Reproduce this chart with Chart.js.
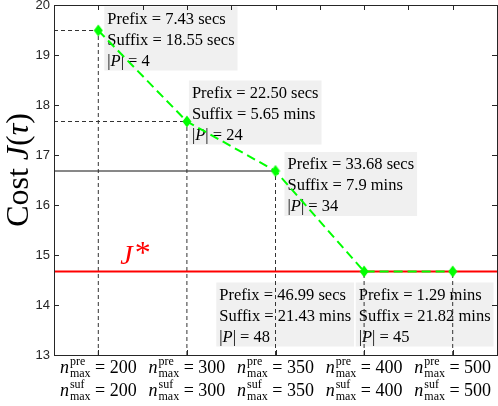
<!DOCTYPE html>
<html>
<head>
<meta charset="utf-8">
<script src="https://cdn.jsdelivr.net/npm/chart.js@4.4.0/dist/chart.umd.min.js"></script>
<style>
    html, body { margin: 0; padding: 0; background: #fff; }
    #wrap { width: 498px; height: 406px; }
</style>
</head>
<body>
<div id="wrap"><canvas id="costChart"></canvas></div>
<script>
// Data
const nMaxValues = [200, 300, 350, 400, 500];
const costValues = [19.49, 17.67, 16.68, 14.67, 14.67];
const jStar = 14.67;
const prefixTimes = ['7.43 secs', '22.50 secs', '33.68 secs', '46.99 secs', '1.29 mins'];
const suffixTimes = ['18.55 secs', '5.65 mins', '7.9 mins', '21.43 mins', '21.82 mins'];
const pathCounts = [4, 24, 34, 48, 45];
const yTickValues = [13, 14, 15, 16, 17, 18, 19, 20];
const topTickValues = [1, 1.5, 2, 2.5, 3, 3.5, 4, 4.5, 5];

// Styling
const SERIF = '"Liberation Serif", "Times New Roman", serif';
const SANS = '"Liberation Sans", Arial, sans-serif';
const INK = '#262626';
const GREEN = '#00ff00';
const RED = '#ff0000';
const PLOT_AREA = { left: 54, top: 5, right: 497, bottom: 355 };

// pixel offsets of each annotation box from its point (left, top); 'right' anchors box right edge
const boxPlacement = [
    { dx: 6, dy: -24 },
    { dx: 2, dy: -41 },
    { dx: 9, dy: -19 },
    { dx: -10, dy: 11, right: true },
    { dx: -97, dy: 11 }
];

const points = costValues.map((v, i) => ({ x: i + 1, y: v }));

// Diamond marker (MATLAB 'd' is taller than wide)
const diamond = document.createElement('canvas');
diamond.width = 10;
diamond.height = 13;
(() => {
    const d = diamond.getContext('2d');
    d.fillStyle = GREEN;
    d.beginPath();
    d.moveTo(5, 0.5);
    d.lineTo(9.5, 6.5);
    d.lineTo(5, 12.5);
    d.lineTo(0.5, 6.5);
    d.closePath();
    d.fill();
})();

const guideStyle = {
    borderColor: '#333',
    borderWidth: 1,
    borderDash: [4, 3],
    pointRadius: 0,
    fill: false
};

const datasets = [
    {
        label: 'cost',
        data: points,
        borderColor: GREEN,
        borderWidth: 2,
        borderDash: [9, 5],
        pointStyle: diamond,
        pointRadius: 6,
        showLine: true
    },
    {
        label: 'J*',
        data: [{ x: 0.5, y: jStar }, { x: 5.5, y: jStar }],
        borderColor: RED,
        borderWidth: 2,
        pointRadius: 0,
        showLine: true
    }
];

// vertical dashed drops from each point
points.forEach(p => {
    datasets.push({ ...guideStyle, data: [{ x: p.x, y: yTickValues[0] }, p], showLine: true });
});
// horizontal guides from the y axis to the first three points (third one is solid)
points.slice(0, 3).forEach((p, i) => {
    datasets.push({
        ...guideStyle,
        borderDash: i === 2 ? [] : guideStyle.borderDash,
        borderColor: i === 2 ? '#111' : '#333',
        data: [{ x: 0.5, y: p.y }, p],
        showLine: true
    });
});

function drawRich(ctx, segs, x, y) {
    let cx = x;
    segs.forEach(([t, f, dy, gap]) => {
        ctx.font = f;
        cx += gap || 0;
        ctx.fillText(t, cx, y + (dy || 0));
        cx += ctx.measureText(t).width;
    });
    return cx - x;
}

function measureRich(ctx, segs) {
    let w = 0;
    segs.forEach(([t, f]) => { ctx.font = f; w += ctx.measureText(t).width; });
    return w;
}

// pin the plot area to where MATLAB put it
const fixArea = {
    id: 'fixArea',
    afterLayout(chart) {
        const a = PLOT_AREA;
        Object.assign(chart.chartArea, a, { width: a.right - a.left, height: a.bottom - a.top });
        const { x, y } = chart.scales;
        x.left = a.left; x.right = a.right; x.width = a.right - a.left;
        x.top = a.bottom; x.bottom = chart.height; x.height = chart.height - a.bottom;
        y.top = a.top; y.bottom = a.bottom; y.height = a.bottom - a.top;
        y.left = 0; y.right = a.left; y.width = a.left;
        x.configure();
        y.configure();
    }
};

const boxesPlugin = {
    id: 'boxes',
    beforeDatasetsDraw(chart) {
        const { ctx, scales: { x, y } } = chart;
        const f = '16.5px ' + SERIF;
        const fi = 'italic 16.5px ' + SERIF;
        ctx.save();
        points.forEach((p, i) => {
            const lines = [
                [['Prefix = ' + prefixTimes[i], f]],
                [['Suffix = ' + suffixTimes[i], f]],
                [['|', f], ['P', fi], ['| = ' + pathCounts[i], f]]
            ];
            const w = Math.max(...lines.map(l => measureRich(ctx, l))) + 6;
            const h = 64;
            const px = x.getPixelForValue(p.x);
            const py = y.getPixelForValue(p.y);
            const pl = boxPlacement[i];
            const left = pl.right ? px + pl.dx - w : px + pl.dx;
            const top = py + pl.dy;
            ctx.fillStyle = '#f0f0f0';
            ctx.fillRect(left, top, w, h);
            ctx.fillStyle = '#000';
            ctx.textBaseline = 'alphabetic';
            lines.forEach((l, k) => drawRich(ctx, l, left + 3, top + 17 + k * 21));
        });
        ctx.restore();
    },
    afterDatasetsDraw(chart) {
        const { ctx, chartArea: a, scales: { x, y } } = chart;
        ctx.save();
        ctx.strokeStyle = INK;
        ctx.lineWidth = 1;
        ctx.beginPath();
        // inward ticks on all four sides
        yTickValues.forEach(v => {
            const py = Math.round(y.getPixelForValue(v)) + 0.5;
            ctx.moveTo(a.left, py); ctx.lineTo(a.left + 5, py);
            ctx.moveTo(a.right, py); ctx.lineTo(a.right - 5, py);
        });
        topTickValues.forEach(v => {
            const px = Math.round(x.getPixelForValue(v)) + 0.5;
            ctx.moveTo(px, a.top); ctx.lineTo(px, a.top + 5);
        });
        points.forEach(p => {
            const px = Math.round(x.getPixelForValue(p.x)) + 0.5;
            ctx.moveTo(px, a.bottom); ctx.lineTo(px, a.bottom - 5);
        });
        ctx.stroke();
        ctx.strokeRect(Math.round(a.left) + 0.5, Math.round(a.top) + 0.5,
            Math.round(a.right - a.left), Math.round(a.bottom - a.top));
        ctx.restore();
    },
    afterDraw(chart) {
        const { ctx, scales: { x, y } } = chart;
        ctx.save();
        ctx.fillStyle = '#000';
        ctx.textBaseline = 'alphabetic';

        // x tick labels: n^pre_max = N / n^suf_max = N
        const big = '18px ' + SERIF;
        const bigI = 'italic 18px ' + SERIF;
        const small = '12px ' + SERIF;
        nMaxValues.forEach((n, i) => {
            const cx = x.getPixelForValue(i + 1);
            [['pre', 373], ['suf', 396]].forEach(([sup, base]) => {
                ctx.font = bigI;
                const wn = ctx.measureText('n').width;
                ctx.font = small;
                const ws = Math.max(ctx.measureText(sup).width, ctx.measureText('max').width);
                ctx.font = big;
                const rest = ' = ' + n;
                const wr = ctx.measureText(rest).width;
                let sx = cx - (wn + ws + 1 + wr) / 2;
                ctx.font = bigI;
                ctx.fillText('n', sx, base);
                sx += wn + 1;
                ctx.font = small;
                ctx.fillText(sup, sx, base - 8);
                ctx.fillText('max', sx, base + 4);
                sx += ws;
                ctx.font = big;
                ctx.fillText(rest, sx, base);
            });
        });

        // y axis title
        const segs = [
            ['Cost ', '32px ' + SERIF],
            ['J', 'italic 32px ' + SERIF],
            ['(', '32px ' + SERIF],
            ['\u03c4', 'italic 32px ' + SERIF],
            [')', '32px ' + SERIF]
        ];
        const tw = measureRich(ctx, segs);
        ctx.translate(28, 170);
        ctx.rotate(-Math.PI / 2);
        drawRich(ctx, segs, -tw / 2, 0);
        ctx.setTransform(1, 0, 0, 1, 0, 0);

        // J* label
        ctx.fillStyle = RED;
        const jx = x.getPixelForValue(1) + 22;
        const jy = y.getPixelForValue(jStar) - 8;
        drawRich(ctx, [['J', 'italic 28px ' + SERIF], ['*', '32px ' + SERIF, -1, 2]], jx, jy);
        ctx.restore();
    }
};

new Chart(document.getElementById('costChart'), {
    type: 'scatter',
    data: { datasets },
    options: {
        responsive: true,
        maintainAspectRatio: false,
        animation: false,
        layout: { padding: { top: 5, right: 1, left: 0, bottom: 0 } },
        plugins: {
            legend: { display: false },
            tooltip: { enabled: false }
        },
        scales: {
            x: {
                type: 'linear',
                min: 0.5,
                max: 5.5,
                grid: { display: false, drawTicks: false },
                border: { display: false },
                ticks: { display: false },
                afterFit: (s) => { s.height = 51; }
            },
            y: {
                min: 13,
                max: 20,
                grid: { display: false, drawTicks: false },
                border: { display: false },
                afterBuildTicks: (s) => { s.ticks = yTickValues.map(v => ({ value: v })); },
                ticks: {
                    color: INK,
                    padding: 4,
                    font: { family: SANS, size: 13 }
                },
                afterFit: (s) => { s.width = 54; }
            }
        }
    },
    plugins: [fixArea, boxesPlugin]
});
</script>
</body>
</html>
